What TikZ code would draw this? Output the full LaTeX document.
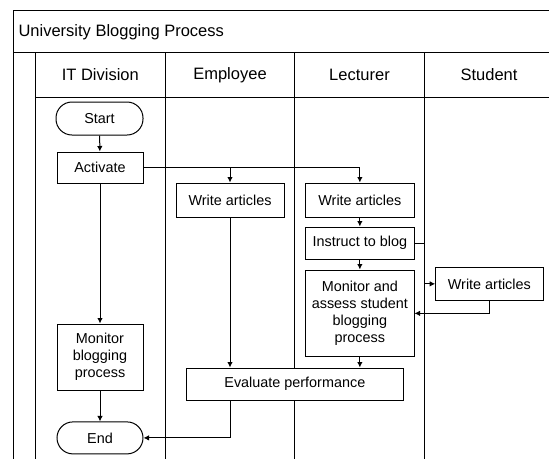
\documentclass[tikz,border=0pt]{standalone}
\usepackage{fontspec}
\setmainfont{Liberation Sans}
\usetikzlibrary{arrows.meta}
\begin{document}
\begin{tikzpicture}[x=1pt,y=-1pt,
  every node/.style={font=\fontsize{14.4}{17}\selectfont, text=black},
  box/.style={draw, fill=white, line width=1pt, inner sep=0pt, align=center},
  term/.style={box, rounded corners=16pt},
  conn/.style={draw, line width=1pt, -{Latex[length=5.5pt,width=5.5pt]}},
  lane/.style={draw, line width=1pt},
  hdr/.style={font=\fontsize{16.5}{19}\selectfont}]
\useasboundingbox (0,0) rectangle (549,459);
% frame and lanes
\draw[lane] (549,10.7) -- (13.3,10.7) -- (13.3,459);
\draw[lane] (13.3,52.3) -- (549,52.3);
\draw[lane] (35,97.7) -- (549,97.7);
\draw[lane] (35,52.3) -- (35,459);
\draw[lane] (165.7,52.3) -- (165.7,459);
\draw[lane] (294.5,52.3) -- (294.5,459);
\coordinate (l4) at (424,52.3);
\draw[lane] (l4) -- (424,459);
% titles
\node[hdr, anchor=west] (title) at (15,32) {University Blogging Process};
\node[hdr] (h1) at (100.3,75) {IT Division};
\node[hdr] (h2) at (230,75) {Employee};
\node[hdr] (h3) at (359.5,75) {Lecturer};
\node[hdr] (h4) at (489,75) {Student};
% nodes
\node[term, minimum width=87pt, minimum height=33pt] (start) at (99.5,118.5) {Start};
\node[box, minimum width=86pt, minimum height=31pt] (act) at (100,167.5) {Activate};
\node[box, minimum width=86pt, minimum height=66pt] (mbp) at (100,357) {Monitor\\blogging\\process};
\node[term, minimum width=86pt, minimum height=32pt] (end) at (100,437.9) {End};
\node[box, minimum width=108pt, minimum height=34pt] (ew) at (230,200) {Write articles};
\node[box, minimum width=108.3pt, minimum height=34pt] (lw) at (359.85,200) {Write articles};
\node[box, minimum width=108.3pt, minimum height=32pt] (ib) at (359.85,243) {Instruct to blog};
\node[box, minimum width=108.3pt, minimum height=86.7pt] (ma) at (359.85,313.35) {Monitor and\\assess student\\blogging\\process};
\node[box, minimum width=107.3pt, minimum height=32.3pt] (sw) at (489.35,283.85) {Write articles};
\node[box, minimum width=216.3pt, minimum height=32pt] (ev) at (294.85,384) {Evaluate performance};
% connectors
\draw[conn] (start) -- (act);
\draw[conn] (act.east) -| (ew.north);
\draw[conn] (act.east) -| (lw.north);
\draw[conn] (act) -- (mbp);
\draw[conn] (mbp) -- (end);
\draw[conn] (lw) -- (ib);
\draw[conn] (ib) -- (ma);
\draw[conn] (ib.east) -- (ib.east -| l4) |- (sw.west);
\draw[conn] (sw.south) |- (ma.east);
\draw[conn] (ew.south) -- (ew.south |- ev.north);
\draw[conn] (ma.south) -- (ma.south |- ev.north);
\draw[conn] (ew.south |- ev.south) |- (end.east);
\end{tikzpicture}
\end{document}
